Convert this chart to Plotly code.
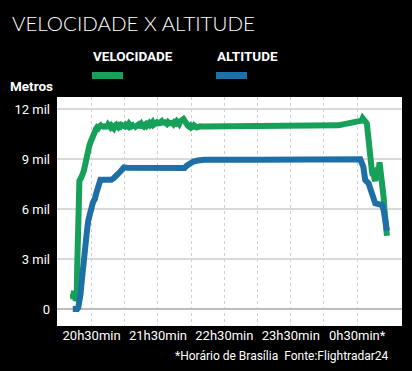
import plotly.graph_objects as go

# minutes since 20:00
vel_t = [13.0, 13.5, 14.0, 14.5, 15.0, 15.5, 16.0, 16.5, 17.0, 17.5, 18.0, 18.5, 19.0, 20, 21, 22, 23, 24, 25, 26, 27, 28, 29, 30,
         31, 32, 33, 34, 35, 36, 37,
         38, 39, 40, 41, 42, 43, 44, 45, 46, 47, 48, 49, 50, 51, 52, 53, 54, 55, 56, 57, 58, 59, 60, 61, 62, 63, 64,
         65, 66, 67, 68, 69, 70, 71, 72, 73, 74, 75, 76, 77, 78, 79, 80, 81, 82, 83, 84, 85, 86, 87, 88, 89, 90, 91,
         92, 93, 94, 95, 96, 97, 98, 99, 100, 101, 102, 103, 104, 105, 106, 107, 108, 109, 110, 111, 112, 113, 114,
         115, 116, 117, 118, 119, 120, 121, 122, 123, 124, 125, 126, 127, 128, 130, 140, 160, 200, 240, 252,
         253, 255, 257, 259, 260, 262, 264, 265, 267, 268, 270, 272, 273, 274, 275, 276, 277, 278, 278.8,
         279.5, 280.3, 281.0, 281.8, 282.6, 283.4, 284.2, 285.0, 285.6, 286.3, 287.1, 287.9, 288.7, 289.4, 290.2,
         290.9, 291.6, 292.4, 293.1, 293.9, 294.6, 295.4, 296.2, 296.9]
vel_v = [900, 600, 1100, 700, 1000, 500, 800, 600, 2500, 5500, 7000, 7500, 7700, 7800, 7900, 8100, 8300, 8700, 8900, 9300,
         9600, 9800, 10000, 10200, 10350, 10500, 10650, 10800, 10900, 10850, 10950,
         11000, 10900, 11050, 10950, 10850, 11000, 10900, 11050, 10950, 10900, 11000, 10950, 10850, 11000, 11050,
         10950, 10900, 11000, 10950, 11050, 11000, 10900, 10950, 11050, 11000, 10950, 11100,
         11000, 10950, 11000, 10900, 11050, 10950, 11000, 11050, 10900, 11000, 11100, 11000, 10950, 11050, 11100,
         11000, 11050, 11150, 11050, 11100, 11200, 11050, 11150, 11100, 11200, 11150, 11050,
         11200, 11250, 11100, 11150, 11300, 11150, 11100, 11200, 11150, 11050, 11250, 11150, 11100, 11200, 11150,
         11250, 11200, 11100, 11250, 11300, 11350, 11400, 11300,
         11150, 11050, 11000, 10950, 11000, 10900, 10950, 10850, 11000, 10950, 10900, 10950, 10930, 10960, 10950,
         10950, 10950, 10960, 10970, 10980,
         11020, 11050, 11080, 11150, 11100, 11200, 11150, 11250, 11200, 11300, 11250, 11300, 11350, 11300, 11450,
         11400, 11350, 11200, 11100,
         10500, 9900, 9400, 8900, 8500, 8200, 8000, 8300, 7800, 7700, 8000, 7900, 8500, 8200, 8800,
         8500, 8200, 7800, 7200, 6700, 6000, 5500, 4900, 4400]

alt_t = [13, 14, 15, 16, 17, 18, 19, 20, 21, 22, 23, 24, 25, 26, 27, 28, 29, 30, 31, 32, 33, 34, 35, 36, 37, 38, 40, 44,
         47.8, 50, 52, 54, 56, 58, 59.3, 62, 80, 100, 112.7, 114, 116, 118.8, 122, 126, 132, 180, 230, 272.8,
         275.5, 277.3, 280.3, 283.4, 286.3, 292.4, 293.9, 296.9]
alt_v = [0, 0, 0, 0, 0, 100, 400, 900, 1600, 2400, 3000, 3600, 4200, 4800, 5300, 5700, 6000, 6200, 6350, 6500, 6600,
         6900, 7200, 7450, 7650, 7750, 7750, 7750, 7750, 7850, 7950, 8050, 8250, 8400, 8500, 8480, 8460, 8450, 8420,
         8460, 8600, 8760, 8850, 8910, 8950, 8960, 8970, 8980,
         8540, 7740, 7540, 6740, 6340, 6240, 5940, 4700]

x_tickvals = [30, 60, 90, 120, 150, 180, 210, 240, 270]
x_ticktext = ["20h30min", "", "21h30min", "", "22h30min", "", "23h30min", "", "0h30min*"]
y_tickvals = [0, 3000, 6000, 9000, 12000]
y_ticktext = ["0", "3 mil", "6 mil", "9 mil", "12 mil"]

GREEN = "#17a05a"
BLUE = "#1e6fa6"
FONT = "Roboto"

fig = go.Figure()
fig.add_trace(go.Scatter(x=vel_t, y=vel_v, mode="lines", name="VELOCIDADE",
                         line=dict(color=GREEN, width=6), showlegend=False))
fig.add_trace(go.Scatter(x=alt_t, y=alt_v, mode="lines", name="ALTITUDE",
                         line=dict(color=BLUE, width=6), showlegend=False))

fig.update_layout(
    width=412, height=371,
    paper_bgcolor="black", plot_bgcolor="white",
    margin=dict(l=57, r=10, t=97, b=45),
    font=dict(family=FONT, color="white", size=13),
    xaxis=dict(range=[-1.25, 310.5], tickvals=x_tickvals, ticktext=x_ticktext,
               showgrid=True, gridcolor="#cfcfcf", griddash="dot", gridwidth=1,
               zeroline=False, showline=False, ticks="",
               tickfont=dict(family=FONT, size=13, color="white")),
    yaxis=dict(range=[-1020, 12720], tickvals=y_tickvals, ticktext=y_ticktext,
               showgrid=True, gridcolor="#d9d9d9", gridwidth=1.5,
               zeroline=True, zerolinecolor="#bdbdbd", zerolinewidth=2,
               showline=False, ticks="", ticklabelstandoff=6,
               tickfont=dict(family=FONT, size=13, color="white")),
)

fig.add_annotation(text="VELOCIDADE X ALTITUDE", xref="paper", yref="paper",
                   x=-47/345, y=1 + (97 - 23) / 229, xanchor="left", yanchor="middle",
                   showarrow=False, font=dict(family="Lato", size=20.5, color="white", weight=300))
fig.add_annotation(text="<b>VELOCIDADE</b>", xref="paper", yref="paper",
                   x=(91 - 57) / 345, y=1 + (97 - 56) / 229, xanchor="left", yanchor="middle",
                   showarrow=False, font=dict(family=FONT, size=13.5, color="white"))
fig.add_annotation(text="<b>ALTITUDE</b>", xref="paper", yref="paper",
                   x=(215 - 57) / 345, y=1 + (97 - 56) / 229, xanchor="left", yanchor="middle",
                   showarrow=False, font=dict(family=FONT, size=13.5, color="white"))
fig.add_annotation(text="<b>Metros</b>", xref="paper", yref="paper",
                   x=-49 / 345, y=1 + (97 - 86) / 229, xanchor="left", yanchor="middle",
                   showarrow=False, font=dict(family=FONT, size=13.5, color="white"))
fig.add_annotation(text="*Horário de Brasília  Fonte:Flightradar24", xref="paper", yref="paper",
                   x=(391 - 57) / 345, y=-(356 - 326) / 229, xanchor="right", yanchor="middle",
                   showarrow=False, font=dict(family=FONT, size=12, color="white"))

for x0, col in [(92, GREEN), (216, BLUE)]:
    fig.add_shape(type="rect", xref="paper", yref="paper",
                  x0=(x0 - 57) / 345, x1=(x0 + 31 - 57) / 345,
                  y0=1 + (97 - 79) / 229, y1=1 + (97 - 72) / 229,
                  fillcolor=col, line=dict(width=0))

fig.write_html("out.html", config={"displayModeBar": False},
               post_script="document.body.style.margin='0';document.body.style.background='black';")
